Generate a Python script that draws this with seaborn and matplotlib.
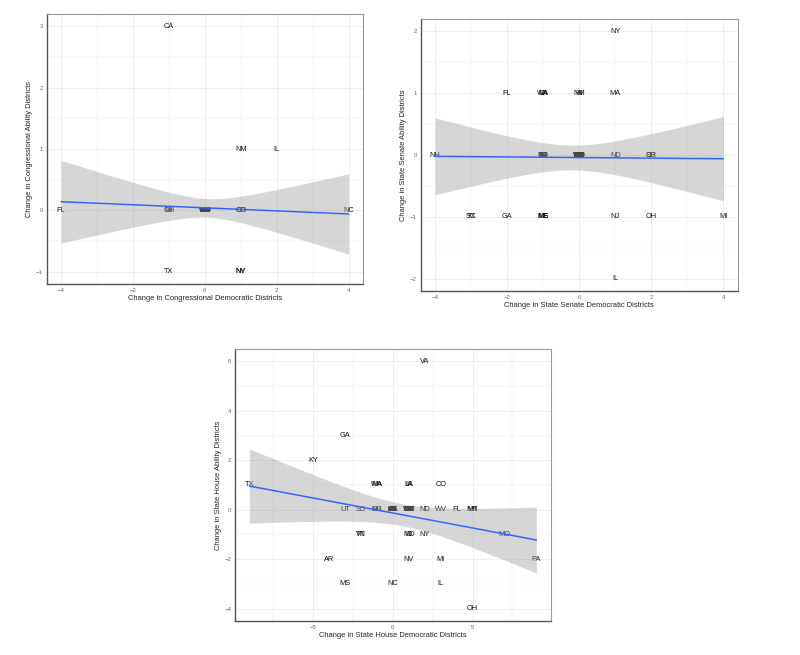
import matplotlib
matplotlib.use("Agg")
import matplotlib.pyplot as plt
import seaborn as sns
import numpy as np

# ---- Congressional districts (50 states) ----
cong_states = ["CA", "NM", "IL", "FL", "OH", "MI", "OR", "CO", "NC", "TX", "NV", "NY",
               "AL", "AK", "AZ", "AR", "CT", "DE", "GA", "HI", "ID", "IN", "IA", "KS", "KY",
               "LA", "ME", "MD", "MA", "MN", "MS", "MO", "MT", "NE", "NH", "NJ", "ND", "OK",
               "PA", "RI", "SC", "SD", "TN", "UT", "VT", "VA", "WA", "WV", "WI", "WY"]
cong_dem = [-1, 1, 2, -4, -1, -1, 1, 1, 4, -1, 1, 1,
            0, 0, 0, 0, 0, 0, 0, 0, 0, 0, 0, 0, 0,
            0, 0, 0, 0, 0, 0, 0, 0, 0, 0, 0, 0, 0,
            0, 0, 0, 0, 0, 0, 0, 0, 0, 0, 0, 0]
cong_ability = [3, 1, 1, 0, 0, 0, 0, 0, 0, -1, -1, -1,
                0, 0, 0, 0, 0, 0, 0, 0, 0, 0, 0, 0, 0,
                0, 0, 0, 0, 0, 0, 0, 0, 0, 0, 0, 0, 0,
                0, 0, 0, 0, 0, 0, 0, 0, 0, 0, 0, 0]

# ---- State Senate districts (50 states) ----
senate_states = ["NY", "FL", "CA", "WA", "VA", "NM", "HI", "MA", "NH", "AZ", "CO", "KS", "TN",
                 "WI", "ND", "SD", "OR", "SC", "TX", "GA", "NE", "MS", "ME", "NJ", "OH", "MI",
                 "IL", "AL", "AK", "AR", "CT", "DE", "ID", "IN", "IA", "KY", "LA", "MD", "MN",
                 "MO", "MT", "NV", "NC", "OK", "PA", "RI", "UT", "VT", "WV", "WY"]
senate_dem = [1, -2, -1, -1, -1, 0, 0, 1, -4, -1, -1, -1, -1,
              -1, 1, 2, 2, -3, -3, -2, -1, -1, -1, 1, 2, 4,
              1, 0, 0, 0, 0, 0, 0, 0, 0, 0, 0, 0, 0,
              0, 0, 0, 0, 0, 0, 0, 0, 0, 0, 0]
senate_ability = [2, 1, 1, 1, 1, 1, 1, 1, 0, 0, 0, 0, 0,
                  0, 0, 0, 0, -1, -1, -1, -1, -1, -1, -1, -1, -1,
                  -2, 0, 0, 0, 0, 0, 0, 0, 0, 0, 0, 0, 0,
                  0, 0, 0, 0, 0, 0, 0, 0, 0, 0, 0]

# ---- State House districts (49 states, no Nebraska) ----
house_states = ["VA", "GA", "KY", "TX", "MA", "WA", "IA", "LA", "CO", "UT", "SD", "NH", "SC",
                "ND", "WV", "FL", "MT", "MN", "MO", "TN", "VT", "MD", "ID", "NY", "AR", "NV",
                "MI", "PA", "MS", "NC", "IL", "OH", "AL", "AK", "AZ", "CA", "CT", "DE", "HI",
                "IN", "KS", "ME", "NJ", "NM", "OK", "OR", "RI", "WI", "WY"]
house_dem = [2, -3, -5, -9, -1, -1, 1, 1, 3, -3, -2, -1, -1,
             2, 3, 4, 5, 5, 7, -2, -2, 1, 1, 2, -4, 1,
             3, 9, -3, 0, 3, 5, 0, 0, 0, 0, 0, 0, 0,
             0, 0, 1, 1, 1, 1, 1, 1, 1, 1]
house_ability = [6, 3, 2, 1, 1, 1, 1, 1, 1, 0, 0, 0, 0,
                 0, 0, 0, 0, 0, -1, -1, -1, -1, -1, -1, -2, -2,
                 -2, -2, -3, -3, -3, -4, 0, 0, 0, 0, 0, 0, 0,
                 0, 0, 0, 0, 0, 0, 0, 0, 0, 0]

T_CRIT = 2.01  # 95% t quantile for ~48 df


def lm_band(x, y, n_grid=80):
    """Analytic 95% confidence band of a simple linear fit (like geom_smooth)."""
    x = np.asarray(x, float)
    y = np.asarray(y, float)
    n = len(x)
    slope, intercept = np.polyfit(x, y, 1)
    resid = y - (slope * x + intercept)
    s = np.sqrt((resid ** 2).sum() / (n - 2))
    sxx = ((x - x.mean()) ** 2).sum()
    grid = np.linspace(x.min(), x.max(), n_grid)
    fit = slope * grid + intercept
    se = s * np.sqrt(1.0 / n + (grid - x.mean()) ** 2 / sxx)
    return grid, fit - T_CRIT * se, fit + T_CRIT * se


def draw_panel(ax, states, xs, ys, xlim, ylim, xmajor, xminor, ymajor, yminor, xlabel, ylabel):
    # state labels first, the smoother band is drawn on top of them
    for st, xv, yv in zip(states, xs, ys):
        ax.text(xv, yv, st, ha="center", va="center", fontsize=5.3,
                color="#111111", zorder=2)

    grid, lo, hi = lm_band(xs, ys)
    ax.fill_between(grid, lo, hi, color="#999999", alpha=0.4, lw=0, zorder=3)
    sns.regplot(x=np.asarray(xs, float), y=np.asarray(ys, float), ax=ax,
                scatter=False, ci=None, truncate=True,
                line_kws=dict(color="#3366FF", lw=1.1, zorder=4))

    ax.set_xlim(*xlim)
    ax.set_ylim(*ylim)
    ax.set_xticks(xmajor)
    ax.set_xticks(xminor, minor=True)
    ax.set_yticks(ymajor)
    ax.set_yticks(yminor, minor=True)
    ax.grid(which="major", color="#ebebeb", lw=0.6, zorder=0)
    ax.grid(which="minor", color="#ebebeb", lw=0.3, zorder=0)
    ax.set_axisbelow(True)
    for side in ["left", "bottom"]:
        ax.spines[side].set_color("#555555")
        ax.spines[side].set_linewidth(1.0)
    for side in ["top", "right"]:
        ax.spines[side].set_color("#9a9a9a")
        ax.spines[side].set_linewidth(0.8)
    ax.tick_params(which="major", length=1.6, width=0.5, color="#444444",
                   labelsize=4.3, labelcolor="#666666", pad=1.2)
    ax.tick_params(which="minor", length=0)
    ax.set_xlabel(xlabel, fontsize=5.4, color="#222222", labelpad=1.8)
    ax.set_ylabel(ylabel, fontsize=5.4, color="#222222", labelpad=1.8)


def main():
    sns.set_style("white")
    plt.rcParams["font.family"] = ["Liberation Sans", "DejaVu Sans"]
    plt.rcParams["axes.unicode_minus"] = True

    fig = plt.figure(figsize=(8.0, 6.55), dpi=100)
    fig.patch.set_facecolor("white")

    ax1 = fig.add_axes([0.0584, 0.5664, 0.3954, 0.4122])
    ax2 = fig.add_axes([0.5259, 0.5557, 0.3963, 0.4153])
    ax3 = fig.add_axes([0.2938, 0.0519, 0.3946, 0.4153])

    draw_panel(ax1, cong_states, cong_dem, cong_ability,
               (-4.4, 4.4), (-1.2, 3.2),
               [-4, -2, 0, 2, 4], [-3, -1, 1, 3],
               [-1, 0, 1, 2, 3], [-0.5, 0.5, 1.5, 2.5],
               "Change in Congressional Democratic Districts",
               "Change in Congressional Ability Districts")

    draw_panel(ax2, senate_states, senate_dem, senate_ability,
               (-4.4, 4.4), (-2.2, 2.2),
               [-4, -2, 0, 2, 4], [-3, -1, 1, 3],
               [-2, -1, 0, 1, 2], [-1.5, -0.5, 0.5, 1.5],
               "Change in State Senate Democratic Districts",
               "Change in State Senate Ability Districts")

    draw_panel(ax3, house_states, house_dem, house_ability,
               (-9.9, 9.9), (-4.5, 6.5),
               [-5, 0, 5], [-7.5, -2.5, 2.5, 7.5],
               [-4, -2, 0, 2, 4, 6], [-3, -1, 1, 3, 5],
               "Change in State House Democratic Districts",
               "Change in State House Ability Districts")

    fig.savefig("out.png", dpi=100, facecolor="white")
    plt.close(fig)


if __name__ == "__main__":
    main()
